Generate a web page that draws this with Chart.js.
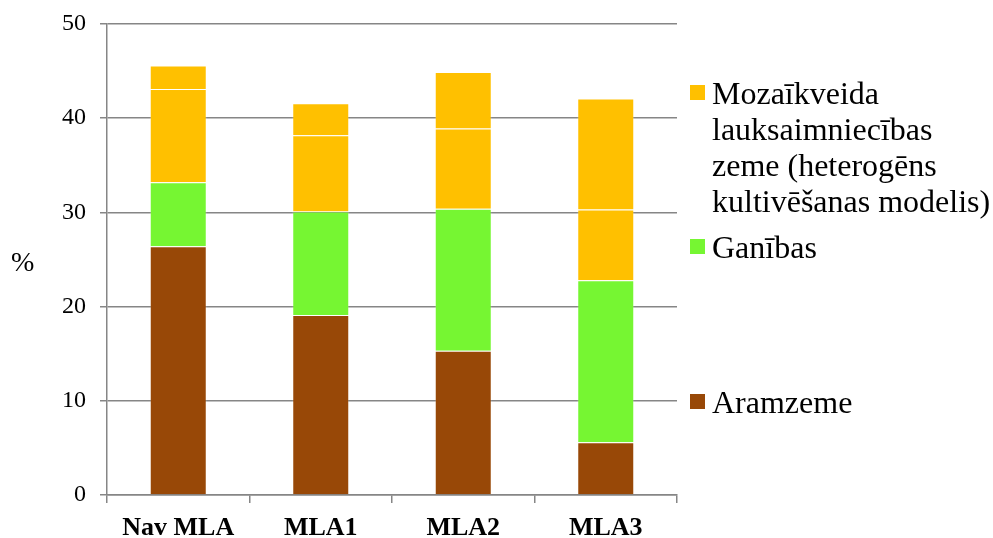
<!DOCTYPE html>
<html>
<head>
<meta charset="utf-8">
<script src="https://cdn.jsdelivr.net/npm/chart.js@4/dist/chart.umd.min.js"></script>
<style>
  html, body { margin: 0; padding: 0; background: #fff; }
  #wrap { position: relative; width: 993px; height: 538px; }
  #c { position: absolute; left: 0; top: 0; }
  .txt { position: absolute; font-family: "Liberation Serif", "Times New Roman", serif; color: #000; }
  #ylab { left: 11px; top: 246px; font-size: 28px; line-height: 32px; }
  #legend { left: 690px; top: 0; width: 303px; }
  .item { position: absolute; left: 0; font-size: 32px; line-height: 36px; }
  .item .sw { position: absolute; left: 0; width: 15px; height: 15px; }
  .item .lt { position: absolute; left: 22px; white-space: nowrap; }
</style>
</head>
<body>
<div id="wrap">
  <canvas id="c" width="993" height="538"></canvas>
  <div id="ylab" class="txt">%</div>
  <div id="legend" class="txt"></div>
</div>
<script>
const categories = ["Nav MLA", "MLA1", "MLA2", "MLA3"];
const aramzeme = [26.4, 19.1, 15.3, 5.6];
const ganibas = [6.8, 11.0, 15.1, 17.2];
const mozaikLower = [9.9, 8.1, 8.5, 7.5];
const mozaikUpper = [2.5, 3.4, 6.0, 11.8];
const yTicks = [0, 10, 20, 30, 40, 50];
const legendLabels = [
  "Mozaīkveida<br>lauksaimniecības<br>zeme (heterogēns<br>kultivēšanas modelis)",
  "Ganības",
  "Aramzeme"
];

const brown = "#984807", green = "#76F632", yellow = "#FFC000";
const border = "rgba(255,255,255,0.18)";

const ds = (label, data, color) => ({
  label, data, backgroundColor: color, borderColor: border, borderWidth: 1,
  barPercentage: 0.4, categoryPercentage: 1.0
});

new Chart(document.getElementById("c"), {
  type: "bar",
  data: {
    labels: categories,
    datasets: [
      ds("Aramzeme", aramzeme, brown),
      ds("Ganības", ganibas, green),
      ds("Mozaīkveida (a)", mozaikLower, yellow),
      ds("Mozaīkveida (b)", mozaikUpper, yellow)
    ]
  },
  options: {
    responsive: false,
    animation: false,
    layout: { padding: { top: 0, right: 316, left: 0, bottom: 0 } },
    plugins: { legend: { display: false }, tooltip: { enabled: false } },
    scales: {
      x: {
        stacked: true,
        offset: true,
        grid: { offset: true, drawOnChartArea: false, drawTicks: true, tickLength: 8, color: "#868686", lineWidth: 1.5 },
        border: { color: "#868686", width: 1.5 },
        ticks: { color: "#000", font: { family: "Liberation Serif", size: 26, weight: "bold" }, padding: 10, maxRotation: 0 },
        afterFit: s => { s.height = 43; }
      },
      y: {
        stacked: true,
        min: 0, max: 50,
        afterBuildTicks: s => { s.ticks = yTicks.map(v => ({ value: v })); },
        grid: { color: "#868686", lineWidth: 1.5, drawTicks: true, tickLength: 7 },
        border: { color: "#868686", width: 1.5 },
        ticks: { color: "#000", font: { family: "Liberation Serif", size: 24, lineHeight: 1.0 }, padding: 14 },
        afterFit: s => { s.width = 107; s.paddingTop = 24; }
      }
    }
  }
});

const colors = [yellow, green, brown];
const tops = [75, 229, 384];
const leg = document.getElementById("legend");
legendLabels.forEach((t, i) => {
  const d = document.createElement("div");
  d.className = "item";
  d.style.top = tops[i] + "px";
  d.innerHTML = '<div class="sw" style="top:10px;background:' + colors[i] + '"></div><div class="lt">' + t + '</div>';
  leg.appendChild(d);
});
</script>
</body>
</html>
